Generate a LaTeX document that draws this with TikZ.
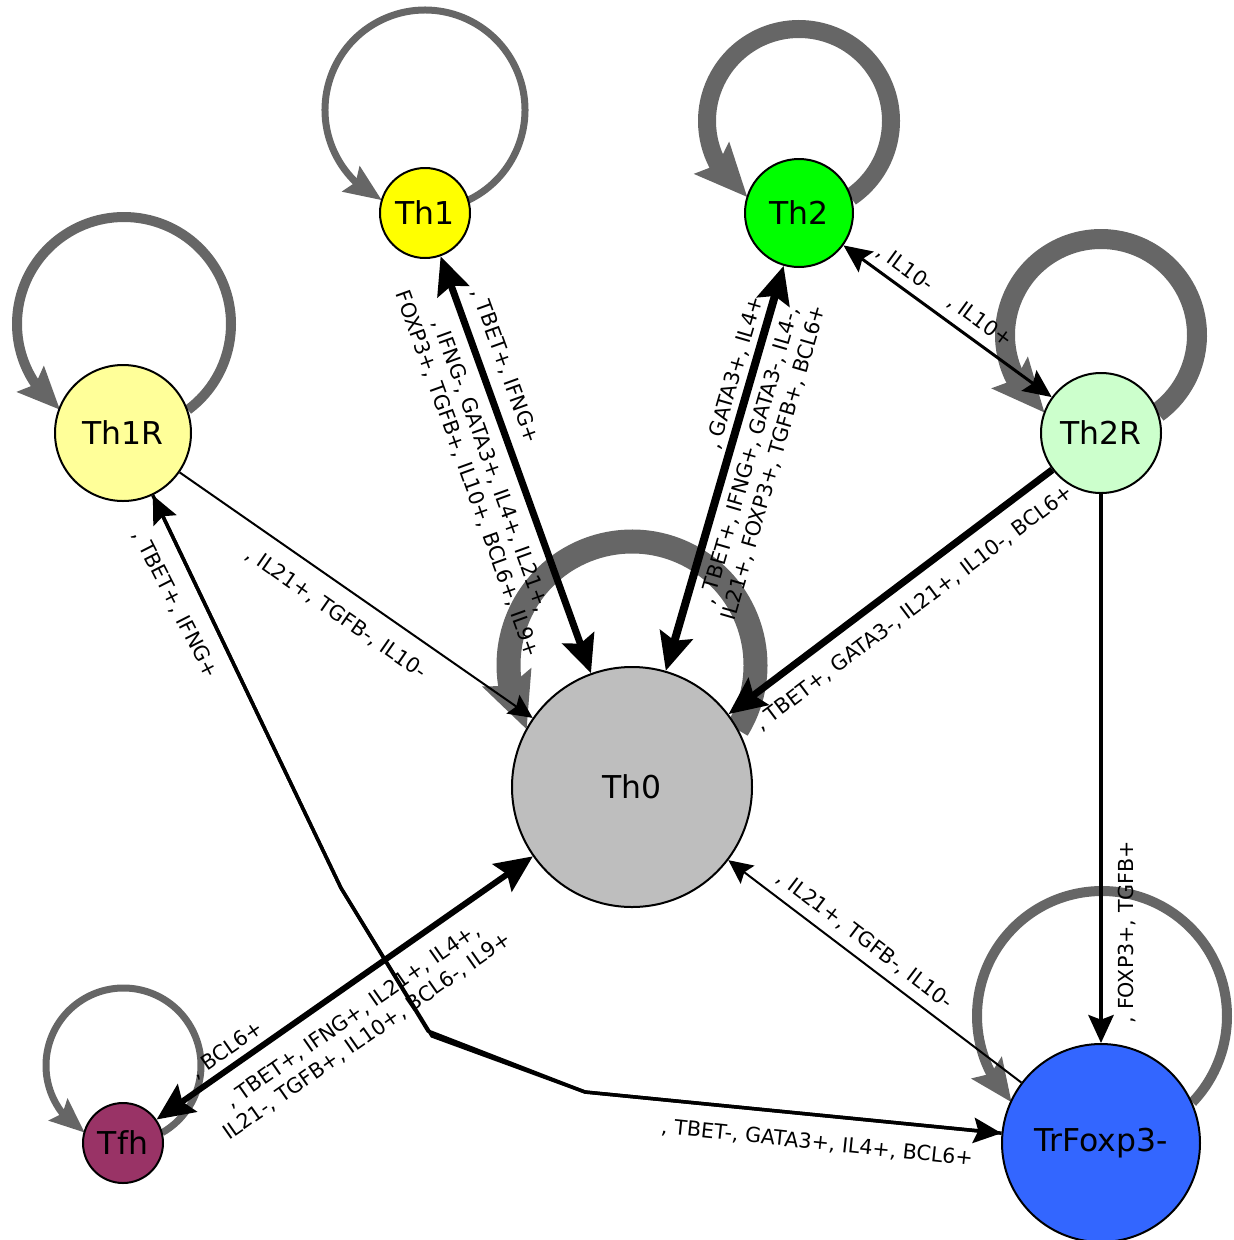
\documentclass[tikz,border=0pt]{standalone}
\usepackage{fontspec}
\setmainfont{DejaVu Sans}
\usetikzlibrary{arrows.meta,bending,backgrounds}

\definecolor{thzerocol}{HTML}{BEBEBE}
\definecolor{thonecol}{HTML}{FFFF00}
\definecolor{thtwocol}{HTML}{00FF00}
\definecolor{thonercol}{HTML}{FFFF99}
\definecolor{thtworcol}{HTML}{CCFFCC}
\definecolor{tfhcol}{HTML}{993366}
\definecolor{trfoxcol}{HTML}{3366FF}
\definecolor{loopgray}{HTML}{666666}

\newcommand{\cellfont}{\fontsize{23.6}{28}\selectfont}
\newcommand{\tagfont}{\fontsize{15.5}{18.75}\selectfont}

\tikzset{every picture/.style={line width=0.75pt}}
\tikzset{
  cell/.style={circle, draw, line width=1.5pt, inner sep=0pt, font=\cellfont},
  tag/.style={font=\tagfont, inner sep=0pt, align=center},
  selfloop/.style={draw=loopgray},
  slimedge/.style={draw, line width=1.5pt},
  midedge/.style={draw, line width=2.6pt},
  fatedge/.style={draw, line width=5.25pt},
  slimhead/.tip={Stealth[length=18pt,width=17pt,inset=3pt]},
  midhead/.tip={Stealth[length=21pt,width=19pt,inset=3.5pt]},
  fathead/.tip={Stealth[length=28pt,width=25pt,inset=4.5pt]}
}

\begin{document}
\begin{tikzpicture}[x=0.75pt,y=0.75pt,yscale=-1,xscale=1]
	\useasboundingbox (0,0) rectangle (1234,1240);

	%Shape: Circle
	\node[cell, fill=thzerocol, minimum size=180pt] (th0) at (632,787) {Th0};
	%Shape: Circle
	\node[cell, fill=thonecol, minimum size=67.5pt] (th1) at (425,213) {Th1};
	%Shape: Circle
	\node[cell, fill=thtwocol, minimum size=81pt] (th2) at (799,213) {Th2};
	%Shape: Circle
	\node[cell, fill=thonercol, minimum size=102pt] (th1r) at (123,433) {Th1R};
	%Shape: Circle
	\node[cell, fill=thtworcol, minimum size=90pt] (th2r) at (1101,433) {Th2R};
	%Shape: Circle
	\node[cell, fill=tfhcol, minimum size=60pt] (tfh) at (123,1143) {Tfh};
	%Shape: Circle
	\node[cell, fill=trfoxcol, minimum size=148.5pt] (trfox) at (1101,1143) {TrFoxp3-};

	\coordinate (th1loop) at (425,110);
	\coordinate (th2loop) at (799,121);
	\coordinate (th1rloop) at (124,324);
	\coordinate (th2rloop) at (1101,335);
	\coordinate (th0loop) at (632,665);
	\coordinate (tfhloop) at (123.5,1065.5);
	\coordinate (trfoxloop) at (1102,1016);
	\coordinate (kinkA) at (341,888);
	\coordinate (kinkB) at (428,1031);
	\coordinate (kinkBB) at (432,1036);
	\coordinate (kinkC) at (585,1092);

	\begin{scope}[on background layer]
	%Shape: Arc
	\draw[selfloop, line width=5.25pt, -{Stealth[length=27.75pt,width=22.5pt,inset=4pt]}] ([shift={(64.4:100)}]th1loop) arc[start angle=64.4, end angle=-244.4, radius=100];
	%Shape: Arc
	\draw[selfloop, line width=13.5pt, -{Stealth[length=39pt,width=34pt,inset=6pt]}] ([shift={(55.9:92)}]th2loop) arc[start angle=55.9, end angle=-235.9, radius=92];
	%Shape: Arc
	\draw[selfloop, line width=7.5pt, -{Stealth[length=31.5pt,width=27pt,inset=5pt]}] ([shift={(53.3:107)}]th1rloop) arc[start angle=53.3, end angle=-233.3, radius=107];
	%Shape: Arc
	\draw[selfloop, line width=15pt, -{Stealth[length=39pt,width=34.5pt,inset=6pt]}] ([shift={(54:96)}]th2rloop) arc[start angle=54, end angle=-234, radius=96];
	%Shape: Arc
	\draw[selfloop, line width=18pt, -{Stealth[length=41pt,width=37.5pt,inset=6pt]}] ([shift={(31.5:123.5)}]th0loop) arc[start angle=31.5, end angle=-211.5, radius=123.5];
	%Shape: Arc
	\draw[selfloop, line width=5.25pt, -{Stealth[length=26pt,width=21pt,inset=4pt]}] ([shift={(60:77.5)}]tfhloop) arc[start angle=60, end angle=-240, radius=77.5];
	%Shape: Arc
	\draw[selfloop, line width=7.5pt, -{Stealth[length=31.5pt,width=27pt,inset=5pt]}] ([shift={(43.7:125)}]trfoxloop) arc[start angle=43.7, end angle=-223.7, radius=125];

	%Straight Lines
	\draw[fatedge, fathead-fathead] (th1) -- (th0);
	%Straight Lines
	\draw[fatedge, line width=6pt, fathead-fathead] (th2) -- (th0);
	%Straight Lines
	\draw[fatedge, -fathead] (th2r) -- (th0);
	%Straight Lines
	\draw[fatedge, line width=4.5pt, fathead-fathead] (tfh) -- (th0);
	%Straight Lines
	\draw[slimedge, -slimhead] (th1r) -- (th0);
	%Straight Lines
	\draw[slimedge, -slimhead] (trfox) -- (th0);
	%Straight Lines
	\draw[midedge, line width=2.25pt, midhead-midhead] (th2) -- (th2r);
	%Straight Lines
	\draw[midedge, -midhead] (th2r) -- (trfox);
	%Straight Lines
	\draw[midedge, -midhead] (th1r) -- (kinkA) -- (kinkB) -- (kinkC) -- (trfox);
	\draw[midedge, -midhead] (trfox) -- (kinkC) -- (kinkBB) -- (kinkA) -- (th1r);
	\end{scope}

	% Text Node
	\node[tag, rotate=-70.2] (tagA) at (505,366) {, TBET+, IFNG+};
	% Text Node
	\node[tag, rotate=-70.2] (tagB) at (479,470) {, IFNG-, GATA3+, IL4+, IL21+,\\FOXP3+, TGFB+, IL10+, BCL6+, IL9+};
	% Text Node
	\node[tag, rotate=73.8] (tagC) at (735,373) {, GATA3+, IL4+};
	% Text Node
	\node[tag, rotate=73.8] (tagD) at (762,459) {, TBET+, IFNG+, GATA3-, IL4-,\\IL21+, FOXP3+, TGFB+, BCL6+};
	% Text Node
	\node[tag, rotate=-36.1] (tagE) at (905,268) {, IL10-};
	% Text Node
	\node[tag, rotate=-36.1] (tagF) at (980,321) {, IL10+};
	% Text Node
	\node[tag, rotate=37] (tagG) at (914,608) {, TBET+, GATA3-, IL21+, IL10-, BCL6+};
	% Text Node
	\node[tag, rotate=-34.8] (tagH) at (336,613) {, IL21+, TGFB-, IL10-};
	% Text Node
	\node[tag, rotate=-63] (tagI) at (175,604) {, TBET+, IFNG+};
	% Text Node
	\node[tag, rotate=-37.2] (tagJ) at (865,940) {, IL21+, TGFB-, IL10-};
	% Text Node
	\node[tag, rotate=90] (tagK) at (1127,932) {, FOXP3+, TGFB+};
	% Text Node
	\node[tag, rotate=35] (tagL) at (227,1050) {, BCL6+};
	% Text Node
	\node[tag, rotate=35] (tagM) at (360,1026) {, TBET+, IFNG+, IL21+, IL4+,\\IL21-, TGFB+, IL10+, BCL6-, IL9+};
	% Text Node
	\node[tag, rotate=-6] (tagN) at (817,1143) {, TBET-, GATA3+, IL4+, BCL6+};

\end{tikzpicture}
\end{document}
